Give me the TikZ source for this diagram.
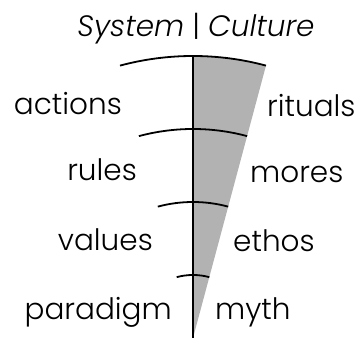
\documentclass[tikz,border=0pt]{standalone}
\usepackage{fontspec}
\setmainfont{Poppins}[UprightFont=* Light, ItalicFont=* Light Italic]
\usepackage{tikz}
\usetikzlibrary{positioning}
\tikzstyle{word} = [inner sep=0pt,font=\fontsize{29.5}{34}\selectfont]
\tikzstyle{rim} = [line width=1.8pt]

\begin{document}
\begin{tikzpicture}[x=1pt,y=1pt]
        \useasboundingbox (0,0) rectangle (357,344);
        \coordinate (O) at (193,6);
        \fill[black!30] (O) -- ++(75:282) arc (75:90:282) -- cycle;
        \draw[rim] (O) -- ++(0,282);
        \foreach \r in {63,136,209,282}
            \draw[rim] (O) ++(105:\r) arc (105:75:\r);
        \node[word, anchor=base] (T) at (196,307) {\textit{System} | \textit{Culture}};
        \node[word, anchor=base east] (L1) at (122,229) {actions};
        \node[word, anchor=base east] (L2) at (137,163) {rules};
        \node[word, anchor=base east] (L3) at (153,93) {values};
        \node[word, anchor=base east] (L4) at (172,24) {paradigm};
        \node[word, anchor=base west] (R1) at (267,227) {rituals};
        \node[word, anchor=base west] (R2) at (250,161) {mores};
        \node[word, anchor=base west] (R3) at (233,92) {ethos};
        \node[word, anchor=base west] (R4) at (215,24) {myth};
    \end{tikzpicture}
\end{document}
